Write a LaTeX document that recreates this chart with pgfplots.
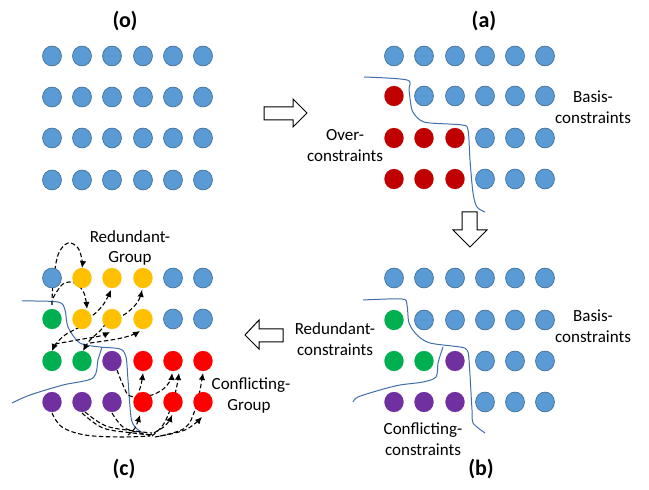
\documentclass[border=0pt]{standalone}
\usepackage{pgfplots}
\pgfplotsset{compat=1.18}
\usepackage{fontspec}
\setmainfont{Carlito}
\usetikzlibrary{arrows.meta}
\definecolor{dotblue}{RGB}{91,155,213}
\definecolor{dotedge}{RGB}{65,113,156}
\definecolor{darkred}{RGB}{192,0,0}
\definecolor{brred}{RGB}{255,0,0}
\definecolor{gold}{RGB}{255,192,0}
\definecolor{ggreen}{RGB}{0,176,80}
\definecolor{ppurple}{RGB}{112,48,160}
\definecolor{curveblue}{RGB}{64,110,170}
\pgfplotsset{
  bdots/.style={only marks, mark=*, color=dotedge, mark size=9.5pt, mark options={fill=dotblue, draw=dotedge, line width=0.7pt, yscale=1.05}},
  cdots/.style={only marks, mark=*, color=#1, mark size=9.6pt, mark options={fill=#1, draw=#1, line width=0.1pt, yscale=1.05}},
  blk/.style={fill=white, draw=black, line width=1pt, no marks},
  bcurve/.style={curveblue, line width=1pt, smooth, no marks, tension=0.5},
  darr/.style={black, dash pattern=on 4.5pt off 2.5pt, line width=1.1pt, smooth, no marks, tension=0.6, -{Latex[length=7pt,width=6.5pt]}},
  dl/.style={black, dash pattern=on 4.5pt off 2.5pt, line width=1.1pt, smooth, no marks, tension=0.6},
}
\tikzset{
  tx/.style={font=\fontsize{17bp}{20bp}\selectfont, inner sep=0pt},
  ttl/.style={font=\fontsize{22bp}{26bp}\selectfont\bfseries, inner sep=0pt},
}
\begin{document}
\begin{tikzpicture}
\begin{axis}[
  width=649bp, height=490bp, scale only axis,
  xmin=0, xmax=649, ymin=0, ymax=490, y dir=reverse,
  hide axis, clip=false,
]
\addplot[draw=none, no marks] coordinates {(0,0) (649,490)};
% ---- panel (o)
\addplot[bdots] coordinates {
(52,56)(82,56)(112,56)(143,56)(173,56)(203,56)
(52,97)(82,97)(112,97)(143,97)(173,97)(203,97)
(52,138)(82,138)(112,138)(143,138)(173,138)(203,138)
(52,180)(82,180)(112,180)(143,180)(173,180)(203,180)};
% ---- panel (a)
\addplot[bdots] coordinates {
(394,56)(424,56)(455,56)(485,56)(515,56)(545,56)
(424,96)(455,96)(485,96)(515,96)(545,96)
(485,138)(515,138)(545,138)
(485,179)(515,179)(545,179)};
\addplot[cdots=darkred] coordinates {(394,96)(394,138)(424,138)(455,138)(394,179)(424,179)(455,179)};
\addplot[bcurve] coordinates {(364,77)(407,80)(409,90)(412,110)(420,120)(430,123)(462,125)(468,130)(470,160)(473,193)(477,207)(485,212)};
% ---- panel (b)
\addplot[bdots] coordinates {
(394,278)(424,278)(455,278)(485,278)(515,278)(545,278)
(424,320)(455,320)(485,320)(515,320)(545,320)
(485,361)(515,361)(545,361)
(485,402)(515,402)(545,402)};
\addplot[cdots=ggreen] coordinates {(394,320)(394,361)(424,361)};
\addplot[cdots=ppurple] coordinates {(455,361)(394,402)(424,402)(455,402)};
\addplot[bcurve] coordinates {(363,300)(402,299)(407,305)(409,323)(417,335)(430,343)(460,347)(467,350)(469,360)(472,410)(473,423)(485,433)};
\addplot[bcurve] coordinates {(353,402)(358,397)(380,390)(400,385)(423,382)(436,377)(438,363)(442,350)(443,347)};
% ---- panel (c)
\addplot[bdots] coordinates {(52,278)(173,278)(203,278)(173,319)(203,319)};
\addplot[cdots=gold] coordinates {(82,278)(112,278)(143,278)(82,319)(112,319)(143,319)};
\addplot[cdots=ggreen] coordinates {(52,319)(52,361)(82,361)};
\addplot[cdots=ppurple] coordinates {(112,361)(52,402)(82,402)(112,402)};
\addplot[cdots=brred] coordinates {(143,361)(173,361)(203,361)(143,402)(173,402)(203,402)};
\addplot[bcurve] coordinates {(22,301)(58,302)(65,310)(68,327)(80,343)(100,347)(120,349)(126,357)(128,380)(131,417)(135,427)(143,433)};
\addplot[bcurve] coordinates {(12,403)(30,395)(63,385)(93,378)(98,360)(102,347)};
% dashed arrows: redundant group
\addplot[darr] coordinates {(52,305)(53,285)(58,255)(68,243)(78,248)(82,260)(82,268)};
\addplot[darr] coordinates {(53,298)(63,284)(75,283)(84,293)(87,309)};
\addplot[darr] coordinates {(73,321)(90,317)(103,305)(111,290)};
\addplot[darr] coordinates {(103,321)(122,316)(137,303)(142,290)};
\addplot[darr] coordinates {(80,327)(65,335)(56,344)(52,351)};
\addplot[darr] coordinates {(55,344)(83,339)(100,336)(110,332)};
\addplot[darr] coordinates {(106,323)(100,331)(90,340)(83,351)};
\addplot[darr] coordinates {(90,343)(117,339)(132,335)(140,331)};
% dashed arrows: conflicting group
\addplot[darr] coordinates {(117,370)(123,385)(130,396)(148,396)(162,390)(170,381)(172,373)};
\addplot[darr] coordinates {(137,397)(141,385)(143,373)};
\addplot[darr] coordinates {(152,436)(163,425)(170,410)(176,390)(179,373)};
\addplot[darr] coordinates {(160,436)(185,428)(195,410)(200,390)(203,373)};
\addplot[darr] coordinates {(128,435)(135,428)(140,415)};
\addplot[darr] coordinates {(148,436)(165,426)(172,415)};
\addplot[darr] coordinates {(155,437)(185,430)(202,417)};
\addplot[dl] coordinates {(52,413)(62,427)(85,435)(120,437)(150,436)};
\addplot[dl] coordinates {(82,413)(103,428)(133,433)(150,435)};
\addplot[dl] coordinates {(85,412)(106,426)(135,431)(152,433)};
\addplot[dl] coordinates {(112,413)(123,427)(140,433)(153,435)};
% block arrows
\addplot[blk] coordinates {(264,107)(293,107)(293,99)(307,113)(293,127)(293,120)(264,120)} -- cycle;
\addplot[blk] coordinates {(462,212)(477,212)(477,230)(487,230)(470,247)(453,230)(462,230)} -- cycle;
\addplot[blk] coordinates {(283,329)(259,329)(259,320)(245,335)(259,349)(259,342)(283,342)} -- cycle;
% texts
\node[ttl] at (axis cs:125,21) {(o)};
\node[ttl] at (axis cs:484,21) {(a)};
\node[ttl] at (axis cs:481,469) {(b)};
\node[ttl] at (axis cs:124,469) {(c)};
\node[tx] at (axis cs:593,97) {Basis-};
\node[tx] at (axis cs:593,118) {constraints};
\node[tx] at (axis cs:345,135) {Over-};
\node[tx] at (axis cs:345,156) {constraints};
\node[tx] at (axis cs:593,316) {Basis-};
\node[tx] at (axis cs:593,337) {constraints};
\node[tx] at (axis cs:335,329) {Redundant-};
\node[tx] at (axis cs:335,350) {constraints};
\node[tx] at (axis cs:423,430) {Conflicting-};
\node[tx] at (axis cs:423,450) {constraints};
\node[tx] at (axis cs:130,237) {Redundant-};
\node[tx] at (axis cs:130,258) {Group};
\node[tx] at (axis cs:251,385) {Conflicting-};
\node[tx] at (axis cs:249,406) {Group};
\end{axis}
\end{tikzpicture}
\end{document}
